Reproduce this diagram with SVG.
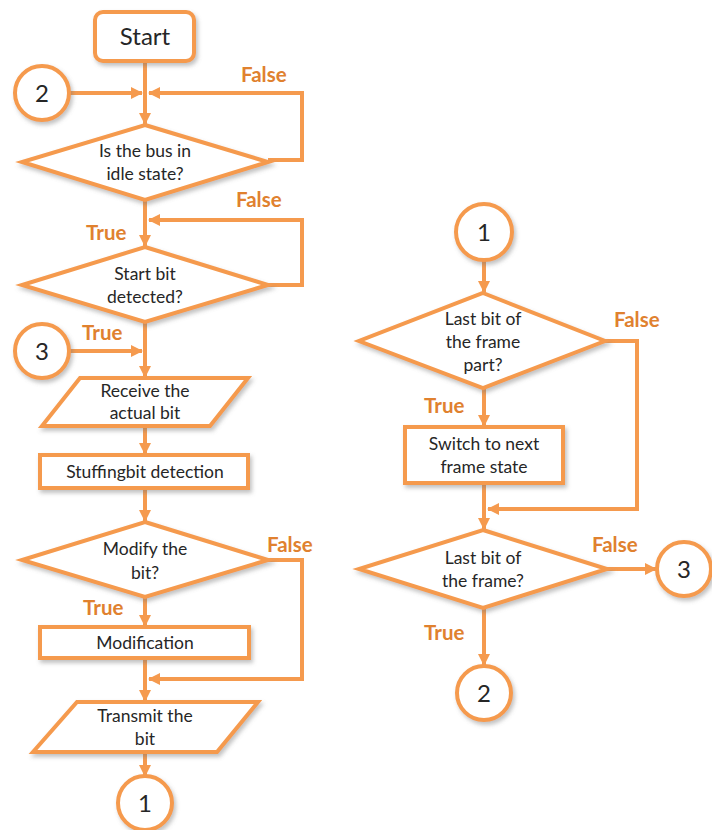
<svg xmlns="http://www.w3.org/2000/svg" width="712" height="830" viewBox="0 0 712 830">
<defs>
<filter id="sh" x="-10%" y="-10%" width="130%" height="140%">
<feDropShadow dx="2" dy="3" stdDeviation="2" flood-color="#777" flood-opacity="0.45"/>
</filter>
<marker id="ar" markerUnits="userSpaceOnUse" markerWidth="12" markerHeight="12" refX="11" refY="6" orient="auto">
<path d="M0,0 L12,6 L0,12 Z" fill="#F59A4E"/>
</marker>
<style>
.sh{fill:#fff;stroke:#F59A4E;stroke-width:4;filter:url(#sh)}
.ln{fill:none;stroke:#F59A4E;stroke-width:4;marker-end:url(#ar)}
.t{font-family:Lato,"Open Sans","Liberation Sans",sans-serif;font-size:17.5px;fill:#262626;text-anchor:middle}
.big{font-size:24px}
.lb{font-family:Lato,"Open Sans","Liberation Sans",sans-serif;font-size:20.5px;font-weight:bold;fill:#E0812F}
</style>
</defs>
<rect width="712" height="830" fill="#fff"/>
<g id="connectors">
<path class="ln" d="M145,62 V124"/>
<path class="ln" d="M69,93 H142"/>
<path class="ln" d="M268,160 H302 V93 H149"/>
<path class="ln" d="M145,200 V246"/>
<path class="ln" d="M268,285 H302 V220 H149"/>
<path class="ln" d="M145,322 V377"/>
<path class="ln" d="M69,351 H142"/>
<path class="ln" d="M145,427 V454"/>
<path class="ln" d="M145,488 V521"/>
<path class="ln" d="M145,597 V626"/>
<path class="ln" d="M268,560 H302 V679 H149"/>
<path class="ln" d="M145,658 V701"/>
<path class="ln" d="M145,752 V776"/>
<path class="ln" d="M484,260 V292"/>
<path class="ln" d="M484,388 V426"/>
<path class="ln" d="M605,341 H637 V509 H488"/>
<path class="ln" d="M484,483 V529"/>
<path class="ln" d="M607,569 H656"/>
<path class="ln" d="M484,608 V665"/>
</g>
<g id="start">
<rect class="sh" x="95" y="12" width="99" height="49" rx="8"/>
<text class="t big" x="145" y="45">Start</text>
</g>
<g id="conn2-left">
<circle class="sh" cx="42" cy="93" r="27"/>
<text class="t big" x="42" y="102">2</text>
</g>
<g id="idle">
<polygon class="sh" points="145,125 268,162 145,200 22,162"/>
<text class="t" x="145" y="157">Is the bus in</text>
<text class="t" x="145" y="180">idle state?</text>
</g>
<g id="startbit">
<polygon class="sh" points="145,247 268,285 145,322 22,285"/>
<text class="t" x="145" y="280">Start bit</text>
<text class="t" x="145" y="303">detected?</text>
</g>
<g id="conn3-left">
<circle class="sh" cx="42" cy="351" r="27"/>
<text class="t big" x="42" y="360">3</text>
</g>
<g id="receive">
<polygon class="sh" points="80,378 248,378 210,426 42,426"/>
<text class="t" x="145" y="397">Receive the</text>
<text class="t" x="145" y="419">actual bit</text>
</g>
<g id="stuffing">
<rect class="sh" x="40" y="455" width="208" height="33"/>
<text class="t" x="145" y="478">Stuffingbit detection</text>
</g>
<g id="modify">
<polygon class="sh" points="145,522 268,560 145,597 22,560"/>
<text class="t" x="145" y="555">Modify the</text>
<text class="t" x="145" y="579">bit?</text>
</g>
<g id="modification">
<rect class="sh" x="40" y="627" width="209" height="31"/>
<text class="t" x="145" y="649">Modification</text>
</g>
<g id="transmit">
<polygon class="sh" points="77,702 258,702 217,752 33,752"/>
<text class="t" x="145" y="722">Transmit the</text>
<text class="t" x="145" y="745">bit</text>
</g>
<g id="conn1-bottom">
<circle class="sh" cx="145" cy="803" r="27"/>
<text class="t big" x="145" y="812">1</text>
</g>
<g id="conn1-top">
<circle class="sh" cx="484" cy="232" r="28"/>
<text class="t big" x="484" y="241">1</text>
</g>
<g id="lastpart">
<polygon class="sh" points="483,293 605,341 483,388 359,341"/>
<text class="t" x="483" y="325">Last bit of</text>
<text class="t" x="483" y="348">the frame</text>
<text class="t" x="483" y="371">part?</text>
</g>
<g id="switch">
<rect class="sh" x="405" y="427" width="158" height="56"/>
<text class="t" x="484" y="450">Switch to next</text>
<text class="t" x="484" y="473">frame state</text>
</g>
<g id="lastframe">
<polygon class="sh" points="483,530 607,569 483,608 359,569"/>
<text class="t" x="483" y="564">Last bit of</text>
<text class="t" x="483" y="587">the frame?</text>
</g>
<g id="conn3-right">
<circle class="sh" cx="684" cy="569" r="27"/>
<text class="t big" x="684" y="578">3</text>
</g>
<g id="conn2-right">
<circle class="sh" cx="484" cy="693" r="27"/>
<text class="t big" x="484" y="702">2</text>
</g>
<g id="labels">
<text class="lb" x="241" y="82">False</text>
<text class="lb" x="236" y="207">False</text>
<text class="lb" x="86" y="240">True</text>
<text class="lb" x="82" y="340">True</text>
<text class="lb" x="267" y="552">False</text>
<text class="lb" x="83" y="615">True</text>
<text class="lb" x="614" y="327">False</text>
<text class="lb" x="424" y="413">True</text>
<text class="lb" x="592" y="552">False</text>
<text class="lb" x="424" y="640">True</text>
</g>
</svg>
